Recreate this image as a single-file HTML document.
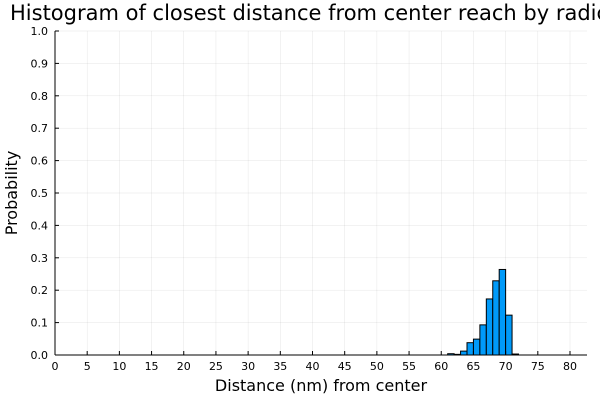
<!DOCTYPE html>
<html><head><meta charset="utf-8"><style>
body{margin:0;background:#fff;overflow:hidden;}
svg{font-family:"DejaVu Sans","Liberation Sans",sans-serif;}
</style></head><body>
<svg id="c" width="600" height="400" xmlns="http://www.w3.org/2000/svg">
<text x="10" y="20" font-size="21" fill="#000">Histogram of closest distance from center reach by radical</text>
<g id="grid"></g>
<g id="bars"></g>
<g id="axes"></g>
<text x="321" y="391" font-size="16" text-anchor="middle">Distance (nm) from center</text>
<text x="17" y="193" font-size="16" text-anchor="middle" transform="rotate(-90 17 193)">Probability</text>
</svg>
<script>
const binStarts=[61,62,63,64,65,66,67,68,69,70,71];
const probs=[0.004,0.002,0.012,0.038,0.049,0.093,0.173,0.229,0.264,0.123,0.003];
const xTicks=[0,5,10,15,20,25,30,35,40,45,50,55,60,65,70,75,80];
const yTicks=[0,0.1,0.2,0.3,0.4,0.5,0.6,0.7,0.8,0.9,1.0];
const binWidth=1;
const X0=55,X1=587,Y0=355,Y1=31;
const xs=v=>X0+v*(570-55)/80;
const ys=v=>Y0-v*(Y0-Y1);
const NS="http://www.w3.org/2000/svg";
function mk(t,a,p){const e=document.createElementNS(NS,t);for(const k in a)e.setAttribute(k,a[k]);p.appendChild(e);return e;}
const grid=document.getElementById('grid'),bars=document.getElementById('bars'),axes=document.getElementById('axes');
xTicks.forEach(t=>{
  const g=mk('line',{x1:xs(t),x2:xs(t),y1:Y1,y2:Y0,stroke:'#000','stroke-opacity':0.1,'stroke-width':0.5},grid);
  
  
  const tk=mk('line',{x1:xs(t),x2:xs(t),y1:Y0,y2:Y0-4,stroke:'#000'},axes);
  
  
  const l=mk('text',{x:xs(t),y:Y0+15,'font-size':11,'text-anchor':'middle'},axes);
  l.textContent=t;
  
  
});
yTicks.forEach(t=>{
  const g=mk('line',{x1:X0,x2:X1,y1:ys(t),y2:ys(t),stroke:'#000','stroke-opacity':0.1,'stroke-width':0.5},grid);
  
  
  const tk=mk('line',{x1:X0,x2:X0+4,y1:ys(t),y2:ys(t),stroke:'#000'},axes);
  
  
  const l=mk('text',{x:X0-7,y:ys(t)+4,'font-size':11,'text-anchor':'end'},axes);
  l.textContent=t.toFixed(1);
  
  
});
binStarts.forEach((b,i)=>{
  const x=xs(b),w=xs(b+binWidth)-x,y=ys(probs[i]);
  const r=mk('rect',{x:x,y:y,width:w,height:Y0-y,fill:'#009af9',stroke:'#000','stroke-width':1},bars);
  
  
});
const ax=mk('line',{x1:X0,x2:X1,y1:Y0,y2:Y0,stroke:'#000'},axes);


const ay=mk('line',{x1:X0,x2:X0,y1:Y1,y2:Y0,stroke:'#000'},axes);


</script>
</body></html>
